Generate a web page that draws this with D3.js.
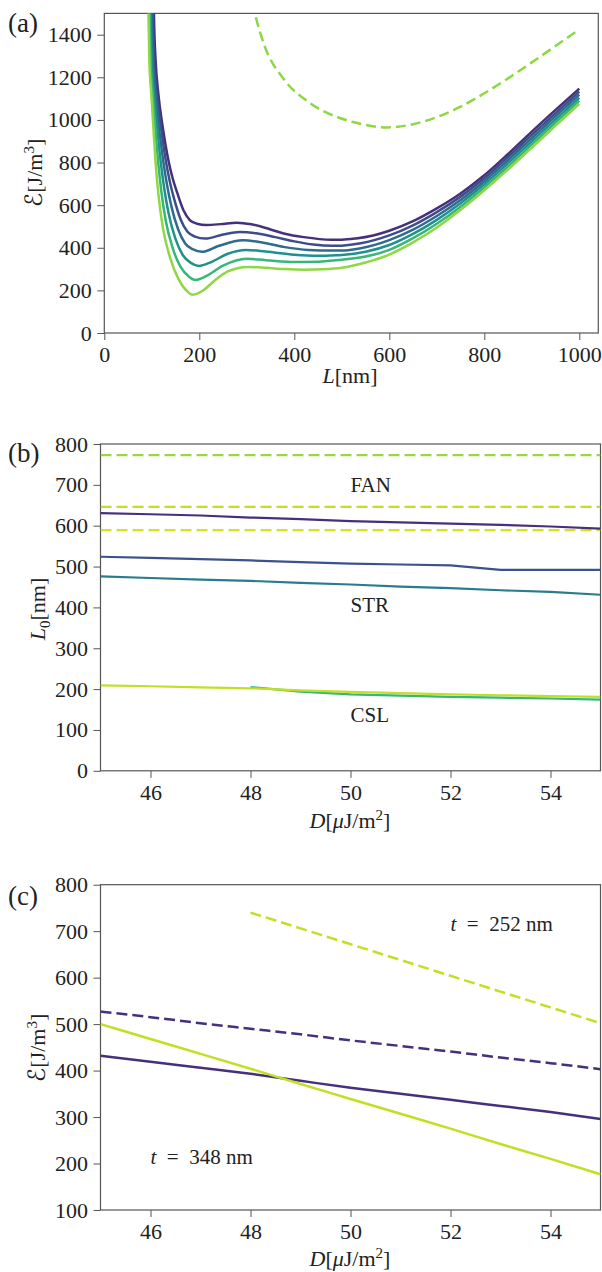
<!DOCTYPE html>
<html>
<head>
<meta charset="utf-8">
<script src="https://cdn.jsdelivr.net/npm/d3@7"></script>
<style>
html,body{margin:0;padding:0;background:#fff;}
svg{display:block;}
</style>
</head>
<body>
<script>
// ---------- DATA ----------
// Panel (a): energy density vs L for six values (viridis), read as [L, E] points
const curveA0 = [[103,1750],[104.5,1500],[108,1281],[113.7,1125],[122.9,968],[134.8,812],[144,725],[153.8,656],[166.4,577],[180,530],[195,513],[215,507],[245,511],[279,518],[310,510],[350,486],[380,466],[420,450],[478,438],[500,438],[530,444],[566,458],[600,480],[650,525],[700,585],[750,655],[800,740],[850,840],[900,945],[950,1047],[1000,1147]];
const curveA1 = [[100.9,1750],[102.2,1500],[105.4,1281],[110.8,1124],[119,968],[129.4,810],[137.9,711],[147.6,625],[160.8,533],[175.2,475],[191,452],[212,443],[250,462],[285,474],[320,468],[360,450],[400,430],[440,415],[480,409],[500,410],[540,421],[600,458],[650,505],[700,567],[750,640],[800,726],[850,826],[900,930],[950,1032],[1000,1133]];
const curveA2 = [[98.7,1750],[99.9,1500],[102.7,1281],[107.8,1123],[115,968],[124.1,807],[131.9,697],[141.4,593],[155.2,488],[170.3,420],[187,392],[206,381],[240,408],[292,435],[330,426],[380,403],[430,390],[480,387],[500,387],[540,398],[600,436],[650,485],[700,549],[750,624],[800,712],[850,811],[900,915],[950,1018],[1000,1119]];
const curveA3 = [[96.4,1750],[97.6,1500],[100.1,1281],[104.9,1122],[111.1,968],[118.7,805],[125.8,684],[135.3,562],[149.5,444],[165.5,365],[183,328],[199,315],[225,333],[260,372],[298,390],[340,382],[400,367],[450,362],[480,364],[500,366],[550,381],[600,413],[650,465],[700,531],[750,609],[800,698],[850,797],[900,900],[950,1003],[1000,1104]];
const curveA4 = [[94.1,1750],[95.3,1500],[97.4,1281],[101.9,1121],[107.1,968],[113.4,802],[119.8,670],[129.1,530],[143.9,399],[160.6,310],[179,263],[192,249],[215,268],[250,316],[300,348],[340,342],[400,333],[450,334],[480,340],[500,344],[550,359],[600,390],[650,445],[700,513],[750,593],[800,684],[850,782],[900,885],[950,988],[1000,1090]];
const curveA5 = [[91.8,1750],[93,1500],[94.8,1281],[99,1120],[103.2,968],[108,800],[113.7,656],[122.9,499],[138.3,355],[155.8,255],[175,195],[185,180],[197,186],[210,203],[233,248],[260,289],[280,304],[303,310],[340,306],[380,300],[422,297],[460,299],[500,306],[550,331],[600,368],[650,425],[700,495],[750,578],[800,670],[850,768],[900,870],[950,973],[1000,1076]];
const dashedA = [[305,1620],[317,1500],[337,1350],[377,1194],[430,1084],[496,1009],[524,990],[595,965],[650,980],[700,1013],[750,1062],[800,1125],[850,1195],[900,1270],[950,1347],[1000,1425]];
const colorsA = ["#45307c","#3d4d8a","#2f6b8e","#20908c","#36b778","#8fd744"];
const xTicksA = [0,200,400,600,800,1000];
const yTicksA = [0,200,400,600,800,1000,1200,1400];

// Panel (b): L0 vs D
const dB = [45,46,47,48,49,50,51,52,53,54,55];
const lPurpleB = [631,628,625,620,616,611,608,605,602,598,593];
const lBlueB   = [524,521,518,515,511,507,505,503,492,492,492];
const lTealB   = [476,472,468,465,460,456,451,447,442,438,431];
const lYellowB = [209,207,204,202,197,193,190,187,185,183,181];
const dGreenB  = [48,49,50,51,52,53,54,55];
const lGreenB  = [205,194,187,184,181,179,177,174];
const fanLevelsB = [773,646,589];
const fanColorsB = ["#98d83e","#c2df23","#d8e219"];
const labelsB = [{t:"FAN",d:50,v:682},{t:"STR",d:50,v:389},{t:"CSL",d:50,v:120}];
const xTicksBC = [46,48,50,52,54];
const yTicksB = [0,100,200,300,400,500,600,700,800];

// Panel (c): energy vs D
const dC = [45,46,47,48,49,50,51,52,53,54,55];
const ePurpleSolidC = [432,419,406,393,378,363,350,337,324,311,296];
const ePurpleDashC  = [527,515,502,490,478,465,453,441,428,416,403];
const eYellowSolidC = [500,468,436,404,371,339,307,275,242,210,177];
const dYellowDashC  = [48,49,50,51,52,53,54,55];
const eYellowDashC  = [740,706,672,638,604,570,536,502];
const yTicksC = [100,200,300,400,500,600,700,800];

// ---------- LAYOUT ----------
const W = 602, H = 1272;
const FONT = "Liberation Serif, DejaVu Serif, serif";
const svg = d3.select("body").append("svg").attr("width", W).attr("height", H)
  .style("font-family", FONT);

const xA = d3.scaleLinear([0,1040],[104.3,598.3]);
const yA = d3.scaleLinear([0,1500],[333,13.4]);
const xB = d3.scaleLinear([45,55],[100.5,600.5]);
const yB = d3.scaleLinear([0,800],[770.8,444]);
const xC = d3.scaleLinear([45,55],[100.5,600.5]);
const yC = d3.scaleLinear([100,800],[1210,884.7]);

function frame(x, y, id) {
  const [x0,x1] = x.range(), [y0,y1] = y.range();
  svg.append("clipPath").attr("id", id).append("rect")
    .attr("x", x0).attr("y", y1).attr("width", x1-x0).attr("height", y0-y1);
  const gx = svg.append("g").attr("transform", `translate(0,${y0})`)
    .call(d3.axisBottom(x).tickValues(x === xA ? xTicksA : xTicksBC).tickSize(7).tickPadding(6.5).tickFormat(d3.format("d")));
  const yt = y === yA ? yTicksA : (y === yB ? yTicksB : yTicksC);
  const gy = svg.append("g").attr("transform", `translate(${x0},0)`)
    .call(d3.axisLeft(y).tickValues(yt).tickSize(7).tickPadding(5.5).tickFormat(d3.format("d")));
  [gx, gy].forEach(g => {
    g.select(".domain").remove();
    g.attr("font-family", null).attr("font-size", null);
    g.selectAll("line").attr("stroke", "#555").attr("stroke-width", 1);
    g.selectAll("text").attr("fill", "#222").style("font-family", FONT).style("font-size", "22px");
  });
  svg.append("rect").attr("x", x0).attr("y", y1).attr("width", x1-x0).attr("height", y0-y1)
    .attr("fill", "none").attr("stroke", "#555").attr("stroke-width", 1.2);
  return svg.append("g").attr("clip-path", `url(#${id})`);
}

function text(x, y, parts, opts = {}) {
  const t = svg.append("text").attr("x", x).attr("y", y)
    .style("font-family", FONT).style("font-size", (opts.size || 22) + "px")
    .attr("fill", "#222")
    .attr("text-anchor", opts.anchor || "middle");
  if (opts.rotate) t.attr("transform", `rotate(-90,${x},${y})`);
  parts.forEach(p => {
    const s = t.append("tspan").text(p.s);
    if (p.i) s.style("font-style", "italic");
    if (p.dy) s.attr("dy", p.dy);
    if (p.fs) s.style("font-size", p.fs + "px");
    if (p.ff) s.style("font-family", p.ff);
  });
  return t;
}
const SCRIPT_E = {s:"ℰ", ff:"DejaVu Serif, DejaVu Sans, serif", fs:24};

// ---------- PANEL (a) ----------
const pa = frame(xA, yA, "clipA");
const lineA = d3.line().x(d => xA(d[0])).y(d => yA(d[1])).curve(d3.curveMonotoneX);
[curveA0,curveA1,curveA2,curveA3,curveA4,curveA5].forEach((c,i) => {
  pa.append("path").attr("d", lineA(c)).attr("fill","none")
    .attr("stroke", colorsA[i]).attr("stroke-width", 2.5);
});
pa.append("path").attr("d", lineA(dashedA)).attr("fill","none")
  .attr("stroke", colorsA[5]).attr("stroke-width", 2.5).attr("stroke-dasharray","10,5");

text(350, 383, [{s:"L",i:true},{s:"[nm]"}]);
text(42, 173, [SCRIPT_E,{s:"[J/m",fs:22},{s:"3",dy:-8,fs:15},{s:"]",dy:8,fs:22}], {rotate:true});
text(8, 32, [{s:"(a)"}], {size:27, anchor:"start"});

// ---------- PANEL (b) ----------
const pb = frame(xB, yB, "clipB");
const lineB = d3.line().x(d => xB(d[0])).y(d => yB(d[1]));
fanLevelsB.forEach((v,i) => {
  pb.append("path").attr("d", lineB([[45,v],[55,v]])).attr("fill","none")
    .attr("stroke", fanColorsB[i]).attr("stroke-width", 2.2).attr("stroke-dasharray","11,5");
});
[[dB,lPurpleB,"#46307c"],[dB,lBlueB,"#3b528b"],[dB,lTealB,"#287c8e"],[dGreenB,lGreenB,"#35b779"],[dB,lYellowB,"#c2df23"]]
  .forEach(([ds,vs,c]) => {
    pb.append("path").attr("d", lineB(ds.map((d,i)=>[d,vs[i]]))).attr("fill","none")
      .attr("stroke", c).attr("stroke-width", 2.2);
  });
labelsB.forEach(l => text(xB(l.d), yB(l.v), [{s:l.t}], {size:21, anchor:"start"}));
text(350, 828, [{s:"D",i:true},{s:"["},{s:"μ",i:true},{s:"J/m"},{s:"2",dy:-8,fs:15},{s:"]",dy:8,fs:22}]);
text(45, 609, [{s:"L",i:true},{s:"0",dy:5,fs:15},{s:"[nm]",dy:-5,fs:22}], {rotate:true});
text(8, 462, [{s:"(b)"}], {size:27, anchor:"start"});

// ---------- PANEL (c) ----------
const pc = frame(xC, yC, "clipC");
const lineC = d3.line().x(d => xC(d[0])).y(d => yC(d[1])).curve(d3.curveMonotoneX);
const seriesC = [
  [dC, ePurpleDashC, "#46307c", true],
  [dC, ePurpleSolidC, "#46307c", false],
  [dYellowDashC, eYellowDashC, "#c2df23", true],
  [dC, eYellowSolidC, "#c2df23", false]
];
seriesC.forEach(([ds,vs,c,dash]) => {
  const p = pc.append("path").attr("d", lineC(ds.map((d,i)=>[d,vs[i]]))).attr("fill","none")
    .attr("stroke", c).attr("stroke-width", 2.5);
  if (dash) p.attr("stroke-dasharray","11,5");
});
text(xC(52), yC(701), [{s:"t",i:true},{s:"\u2002=\u2002252 nm"}], {size:21, anchor:"start"});
text(xC(46), yC(200), [{s:"t",i:true},{s:"\u2002=\u2002348 nm"}], {size:21, anchor:"start"});
text(350, 1266, [{s:"D",i:true},{s:"["},{s:"μ",i:true},{s:"J/m"},{s:"2",dy:-8,fs:15},{s:"]",dy:8,fs:22}]);
text(45, 1048, [SCRIPT_E,{s:"[J/m",fs:22},{s:"3",dy:-8,fs:15},{s:"]",dy:8,fs:22}], {rotate:true});
text(8, 905, [{s:"(c)"}], {size:27, anchor:"start"});
</script>
</body>
</html>
